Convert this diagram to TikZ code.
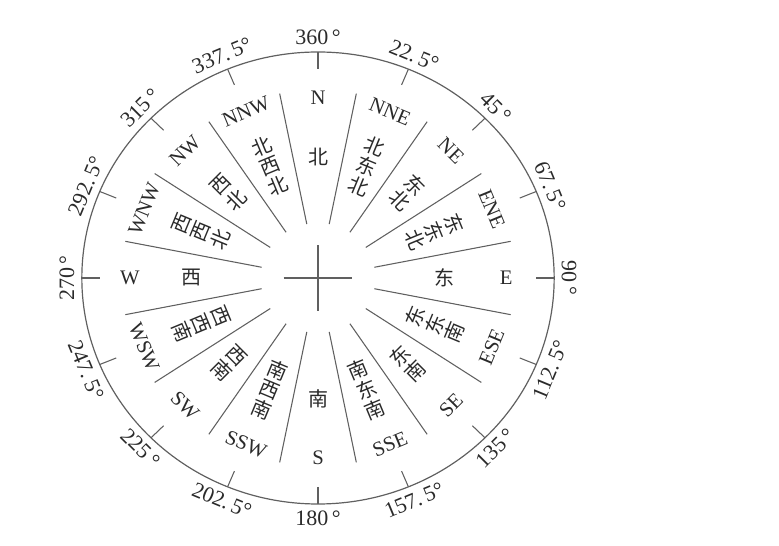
\documentclass[tikz,border=0pt]{standalone}
\usepackage{fontspec}
\setmainfont{Liberation Serif}
\newfontfamily\cjk{Noto Sans CJK SC}
\definecolor{linegray}{HTML}{606060}
\definecolor{textgray}{HTML}{2A2A2A}
\begin{document}
\begin{tikzpicture}[x=0.75pt,y=0.75pt,
  rim/.style={draw=linegray,line width=0.9pt},
  ray/.style={draw=linegray,line width=0.8pt},
  degtext/.style={font=\fontsize{16.5}{17}\selectfont,text=textgray,inner sep=0pt},
  entext/.style={font=\fontsize{15.5}{16}\selectfont,text=textgray,inner sep=0pt},
  cntext/.style={font={\cjk\fontsize{15}{16}\selectfont},text=textgray,inner sep=0pt,align=center}]
\useasboundingbox (0,0) rectangle (779,546);
\begin{scope}[shift={(318,268)},xscale=1.045]
  \draw[rim] (0,0) circle (226);
  \draw[ray] (-33,0) -- (33,0) (0,-33) -- (0,33);
  \foreach \k in {0,...,15}{
    \draw[ray] ({90-11.25-22.5*\k}:55) -- ({90-11.25-22.5*\k}:188);
    \draw[ray] ({90-22.5*\k}:209) -- ({90-22.5*\k}:226);
  }
  \foreach \b/\r/\lr/\en/\cn/\dg/\da in {
    0/0/0/N/北/360\,°/south,
    22.5/-22.5/-22.5/NNE/北\\东\\北/22.\,5°/south,
    45/-45/-45/NE/东\\北/45\,°/south,
    67.5/-67.5/-67.5/ENE/东\\东\\北/67.\,5°/south,
    90/-90/0/E/东/90\,°/south,
    112.5/67.5/67.5/ESE/东\\东\\南/112.\,5°/north,
    135/45/45/SE/东\\南/135\,°/north,
    157.5/22.5/22.5/SSE/南\\东\\南/157.\,5°/north,
    180/0/0/S/南/180\,°/north,
    202.5/-22.5/-22.5/SSW/南\\西\\南/202.\,5°/north,
    225/-45/-45/SW/西\\南/225\,°/north,
    247.5/-67.5/-67.5/WSW/西\\西\\南/247.\,5°/north,
    270/90/0/W/西/270\,°/south,
    292.5/67.5/67.5/WNW/西\\西\\北/292.\,5°/south,
    315/45/45/NW/西\\北/315\,°/south,
    337.5/22.5/22.5/NNW/北\\西\\北/337.\,5°/south}{
    \node[degtext,rotate=\r,anchor=\da] (d\b) at ({90-\b}:233) {\dg};
    \node[entext,rotate=\lr] (e\b) at ({90-\b}:180) {\en};
    \node[cntext,rotate=\lr] (c\b) at ({90-\b}:121) {\cn};
  }
\end{scope}
\end{tikzpicture}
\end{document}
